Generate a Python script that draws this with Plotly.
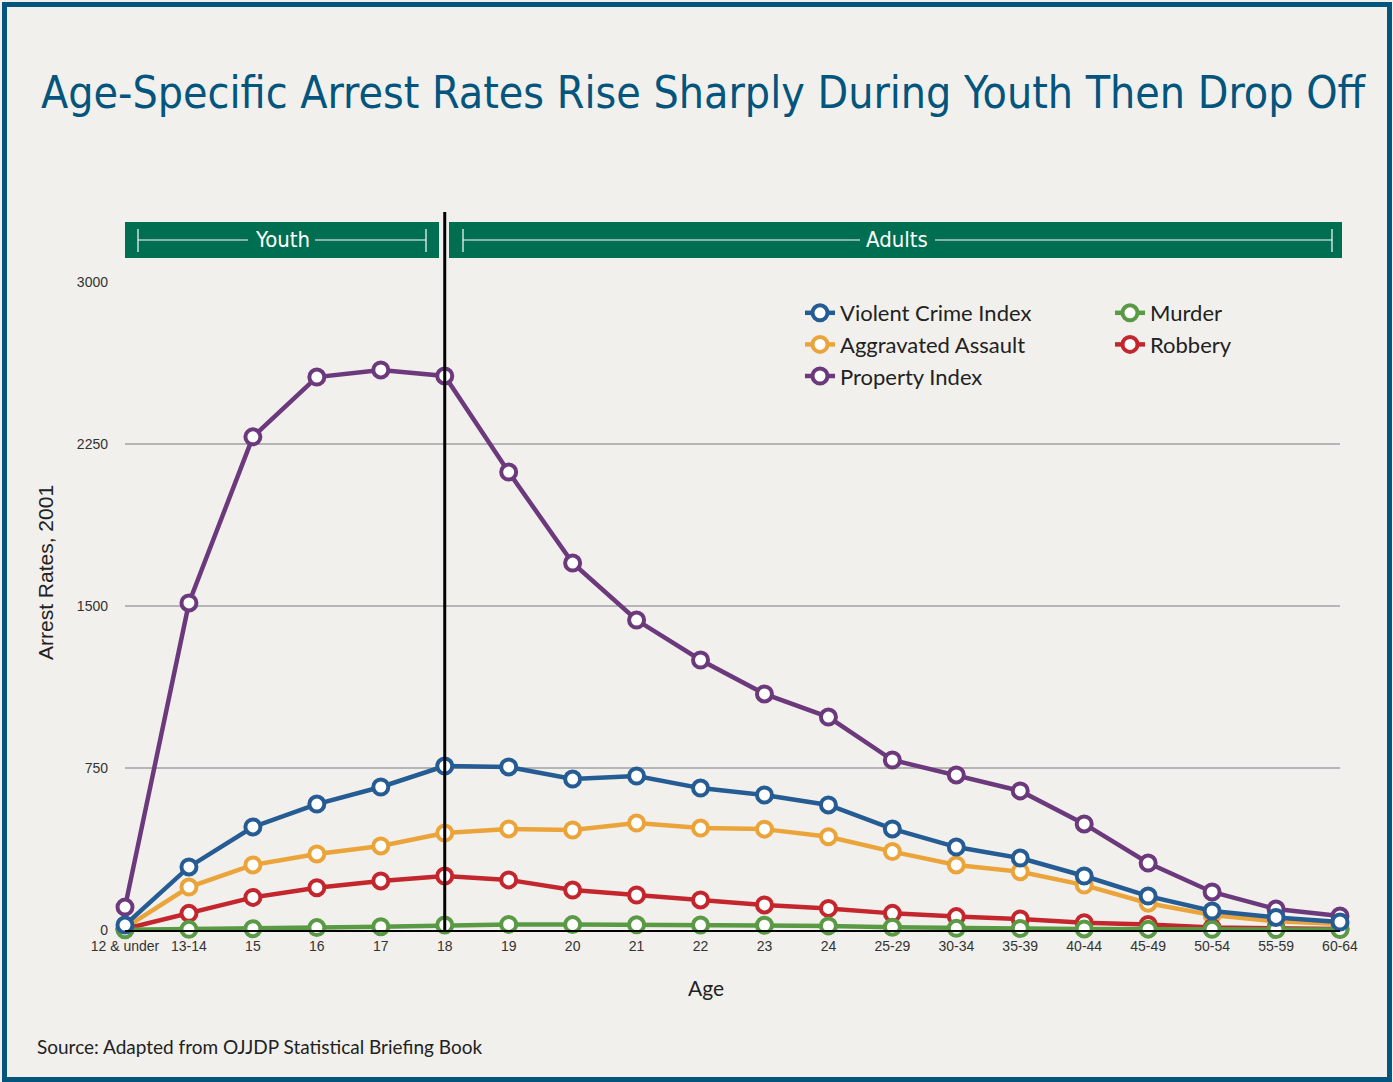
import plotly.graph_objects as go

ages = ["12 & under", "13-14", "15", "16", "17", "18", "19", "20", "21", "22", "23", "24",
        "25-29", "30-34", "35-39", "40-44", "45-49", "50-54", "55-59", "60-64"]
violent = [23, 292, 477, 583, 662, 759, 755, 699, 713, 657, 625, 579, 468, 384, 333, 250, 157, 88, 58, 37]
aggravated = [10, 199, 301, 352, 389, 449, 468, 463, 495, 472, 467, 432, 363, 301, 270, 208, 124, 69, 40, 28]
property_idx = [106, 1514, 2283, 2560, 2593, 2565, 2120, 1699, 1435, 1250, 1093, 986, 787, 718, 644, 491, 310, 176, 97, 65]
murder = [1, 3, 6, 11, 15, 23, 26, 25, 24, 23, 22, 19, 13, 8, 7, 5, 4, 3, 2, 2]
robbery = [5, 77, 151, 196, 227, 250, 232, 185, 162, 139, 116, 100, 77, 62, 51, 34, 26, 11, 7, 5]
y_ticks = [0, 750, 1500, 2250, 3000]

W, H = 1393, 1082
L, R, T, B = 125, 1340, 282, 930
BG = "#f1f0ec"
NAVY = "#03557d"
GREEN_BANNER = "#006f51"
COND = "Liberation Sans Narrow, DejaVu Sans Condensed, sans-serif"

def px(x):
    return (x - L) / (R - L)

def py(y):
    return (B - y) / (B - T)

series = [
    ("Property Index", property_idx, "#6c3a7c", "legend"),
    ("Aggravated Assault", aggravated, "#eba43a", "legend"),
    ("Robbery", robbery, "#c4262e", "legend2"),
    ("Murder", murder, "#5a9a45", "legend2"),
    ("Violent Crime Index", violent, "#255c94", "legend"),
]

xs = list(range(len(ages)))
fig = go.Figure()
for name, vals, col, lg in series:
    fig.add_trace(go.Scatter(
        x=xs, y=vals, name=name, mode="lines+markers", legend=lg,
        line=dict(color=col, width=4.5),
        marker=dict(symbol="circle", size=15, color="white", line=dict(color=col, width=4)),
        cliponaxis=False,
    ))

shapes = []
shapes.append(dict(type="rect", xref="paper", yref="paper",
                   x0=px(4.5), x1=px(1389.5), y0=py(1079.5), y1=py(4.5),
                   line=dict(color=NAVY, width=5), fillcolor="rgba(0,0,0,0)", layer="below"))
shapes.append(dict(type="rect", xref="paper", yref="paper", x0=px(125), x1=px(439), y0=py(258), y1=py(222),
                   line=dict(width=0), fillcolor=GREEN_BANNER))
shapes.append(dict(type="rect", xref="paper", yref="paper", x0=px(449), x1=px(1342), y0=py(258), y1=py(222),
                   line=dict(width=0), fillcolor=GREEN_BANNER))
for a, b in [(138, 248), (315, 426), (463, 860), (935, 1332)]:
    shapes.append(dict(type="line", xref="paper", yref="paper", x0=px(a), x1=px(b), y0=py(240), y1=py(240),
                       line=dict(color="white", width=1.2)))
for t in [138, 426, 463, 1332]:
    shapes.append(dict(type="line", xref="paper", yref="paper", x0=px(t), x1=px(t), y0=py(229), y1=py(252),
                       line=dict(color="white", width=1.2)))
shapes.append(dict(type="line", xref="x", yref="paper", x0=5, x1=5, y0=0, y1=py(212),
                   line=dict(color="black", width=3)))

annotations = [
    dict(text="Age-Specific Arrest Rates Rise Sharply During Youth Then Drop Off", xref="paper", yref="paper",
         x=px(704), y=py(93), showarrow=False, xanchor="center", yanchor="middle",
         font=dict(family=COND, size=44.3, color=NAVY)),
    dict(text="Youth", xref="paper", yref="paper", x=px(282), y=py(240), showarrow=False,
         xanchor="center", yanchor="middle", bgcolor=GREEN_BANNER, borderpad=3,
         font=dict(family=COND, size=22, color="white")),
    dict(text="Adults", xref="paper", yref="paper", x=px(897), y=py(240), showarrow=False,
         xanchor="center", yanchor="middle", bgcolor=GREEN_BANNER, borderpad=3,
         font=dict(family=COND, size=22, color="white")),
    dict(text="Source: Adapted from OJJDP Statistical Briefing Book", xref="paper", yref="paper",
         x=px(35), y=py(1046), showarrow=False, xanchor="left", yanchor="middle",
         font=dict(family="Lato, sans-serif", size=19, color="#222222")),
    dict(text="Age", xref="paper", yref="paper", x=px(706), y=py(987), showarrow=False,
         xanchor="center", yanchor="middle",
         font=dict(family="Lato, sans-serif", size=21, color="#222222")),
    dict(text="Arrest Rates, 2001", xref="paper", yref="paper", x=px(45), y=py(573), showarrow=False,
         xanchor="center", yanchor="middle", textangle=-90,
         font=dict(family="Liberation Sans, Arial, sans-serif", size=21, color="#222222")),
]

legend_font = dict(family="Lato, sans-serif", size=22, color="#222222")
fig.update_layout(
    width=W, height=H,
    margin=dict(l=L, r=W - R, t=T, b=H - B, autoexpand=False),
    paper_bgcolor=BG, plot_bgcolor=BG,
    showlegend=True,
    legend=dict(x=px(800), y=py(292), xanchor="left", yanchor="top", traceorder="reversed",
                bgcolor="rgba(0,0,0,0)", font=legend_font, tracegroupgap=0, itemwidth=30),
    legend2=dict(x=px(1110), y=py(292), xanchor="left", yanchor="top", traceorder="reversed",
                 bgcolor="rgba(0,0,0,0)", font=legend_font, tracegroupgap=0, itemwidth=30),
    shapes=shapes,
    annotations=annotations,
    xaxis=dict(
        range=[0, len(ages) - 1], tickmode="array", tickvals=xs, ticktext=ages,
        showgrid=False, zeroline=False, showline=True, linecolor="black", linewidth=1.5,
        ticks="", tickfont=dict(family="Liberation Sans, Arial, sans-serif", size=14, color="#333333"),
        ticklabelstandoff=2,
    ),
    yaxis=dict(
        range=[0, 3000], tickmode="array", tickvals=y_ticks, ticktext=[str(v) for v in y_ticks],
        showgrid=True, gridcolor="#b5b5b5", gridwidth=1.5, zeroline=False, showline=False,
        ticks="", tickfont=dict(family="Liberation Sans, Arial, sans-serif", size=14, color="#333333"),
        ticklabelstandoff=16,
    ),
)

fig.write_html("out.html")
